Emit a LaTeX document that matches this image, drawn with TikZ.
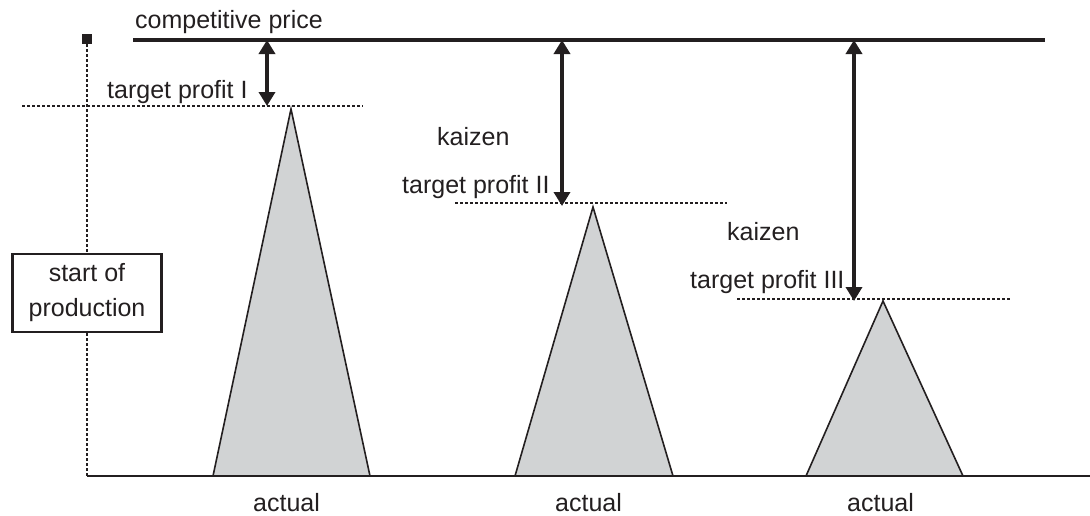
\documentclass[tikz,border=0pt]{standalone}
\usepackage{fontspec}
\setmainfont{Liberation Sans}
\usetikzlibrary{arrows.meta}
\definecolor{ink}{HTML}{231F20}
\definecolor{peak}{HTML}{D1D3D4}
\begin{document}
\begin{tikzpicture}[x=1pt,y=-1pt,
  lbl/.style={inner sep=0pt, anchor=base west, text=ink, font=\fontsize{25}{35}\selectfont},
  dots/.style={ink, line width=2.5pt, dash pattern=on 2.5pt off 2.5pt},
  gap/.style={ink, line width=4.5pt, {Triangle[width=16pt,length=14pt]}-{Triangle[width=16pt,length=14pt]}},
  peakshape/.style={draw=ink, fill=peak, line width=1.6pt, line join=miter},
  startbox/.style={draw=ink, line width=2.2pt, text=ink, align=center, inner sep=0pt,
    minimum width=149pt, minimum height=78pt, font=\fontsize{25}{35}\selectfont}]
\useasboundingbox (0,0) rectangle (1090,515);

% level of the competitive price and the three profit targets
\coordinate (cpL) at (133,40);
\coordinate (cpR) at (1045,40);
\coordinate (a1top) at (267,40);
\coordinate (a2top) at (562,40);
\coordinate (a3top) at (854,40);
\coordinate (a1bot) at (267,106);
\coordinate (a2bot) at (562,206);
\coordinate (a3bot) at (854,301);
\coordinate (origin) at (87,476);
\coordinate (axisend) at (1090,476);

% cost peaks
\draw[peakshape] (213,476) -- (291,109) -- (370,476) -- cycle;
\draw[peakshape] (515,476) -- (593,207) -- (673,476) -- cycle;
\draw[peakshape] (806,476) -- (883,301) -- (963,476) -- cycle;

% target profit levels
\coordinate (t1L) at (22,106);  \coordinate (t1R) at (363,106);
\coordinate (t2L) at (455,203); \coordinate (t2R) at (727,203);
\coordinate (t3L) at (737,299); \coordinate (t3R) at (1010,299);
\draw[dots] (t1L) -- (t1R);
\draw[dots] (t2L) -- (t2R);
\draw[dots] (t3L) -- (t3R);

% time axis with start marker
\node[fill=ink, minimum size=10pt, inner sep=0pt] (sq) at (87,39) {};
\node[startbox] (sop) at (87,293) {start of\\production};
\draw[dots] (sq.south) -- (sop.north -| sq);
\draw[dots] (sop.south -| sq) -- (origin);
\draw[ink, line width=2.8pt] (origin) -- (axisend);

% competitive price line and the gaps to it
\draw[ink, line width=4pt] (cpL) -- (cpR);
\draw[gap] (a1top) -- (a1bot);
\draw[gap] (a2top) -- (a2bot);
\draw[gap] (a3top) -- (a3bot);

% labels
\node[lbl] (cp) at (135,28) {competitive price};
\node[lbl] (tp1) at (107,98) {target profit I};
\node[lbl] (kz1) at (437,145) {kaizen};
\node[lbl] (tp2) at (402,193) {target profit II};
\node[lbl] (kz2) at (727,240) {kaizen};
\node[lbl] (tp3) at (690,288) {target profit III};
\node[lbl] (ac1) at (253,511) {actual};
\node[lbl] (ac2) at (555,511) {actual};
\node[lbl] (ac3) at (847,511) {actual};
\end{tikzpicture}
\end{document}
